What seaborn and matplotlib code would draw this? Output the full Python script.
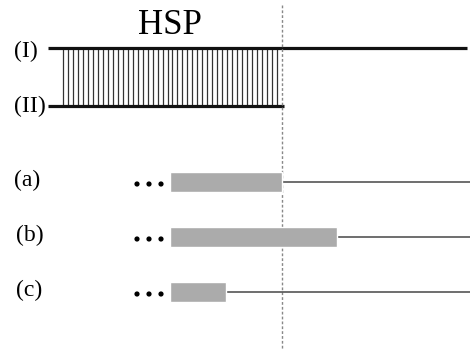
import numpy as np
import pandas as pd
import seaborn as sns
import matplotlib.pyplot as plt

# x positions are in sketch units (0..471), y in rows (0..353, top down)
strand_labels = ["(I)", "(II)"]
strand_y = [48, 106]
strand_end = [467, 284]
strand_start = 48

hsp_start = 63
hsp_end = 277
hsp_n_lines = 44
cut_x = 282

rows = ["(a)", "(b)", "(c)"]
row_y = [182, 237, 292]
bar_start = 170
bar_end = [282, 337, 226]
line_end = 470
dot_x = [137, 149, 161]


def draw():
	sns.set_style("white")
	plt.rcParams["font.family"] = ["Liberation Serif", "DejaVu Serif"]
	plt.rcParams["text.color"] = "black"

	fig = plt.figure(figsize=(4.71, 3.53), dpi=100)
	ax = fig.add_axes([0, 0, 1, 1])

	# hatched HSP region between the two strands
	hatch_x = np.linspace(hsp_start, hsp_end, hsp_n_lines)
	ax.vlines(hatch_x, strand_y[0], strand_y[1], color="#333333", lw=0.9)

	# the two strands
	for y, end in zip(strand_y, strand_end):
		ax.hlines(y, strand_start, end, color="#111111", lw=2.3)

	ax.text(170, 25, "HSP", fontsize=25, ha="center", va="center")
	ax.text(26, 51, strand_labels[0], fontsize=17, ha="center", va="center")
	ax.text(30, 106, strand_labels[1], fontsize=17, ha="center", va="center")

	# dashed cut line
	ax.vlines(cut_x, 5, 350, color="#888888", lw=1, linestyles=(0, (2, 1.5)))

	# alignment rows
	widths = [e - bar_start for e in bar_end]
	ax.barh(row_y, widths, left=bar_start, height=20, color="#ababab", zorder=3)
	for y, end in zip(row_y, bar_end):
		ax.hlines(y, end, line_end, color="#555555", lw=1.2, zorder=2)

	dots = pd.DataFrame(
		[(x, y + 2) for y in row_y for x in dot_x], columns=["x", "y"]
	)
	sns.scatterplot(data=dots, x="x", y="y", ax=ax, color="black", s=14,
		edgecolor="none", legend=False)

	label_x = [27, 30, 29]
	for lbl, x, y in zip(rows, label_x, row_y):
		ax.text(x, y - 2, lbl, fontsize=17, ha="center", va="center")

	ax.set_xlim(0, 471)
	ax.set_ylim(353, 0)
	ax.axis("off")

	fig.savefig("out.png", dpi=100)
	plt.close(fig)


if __name__ == "__main__":
	draw()
